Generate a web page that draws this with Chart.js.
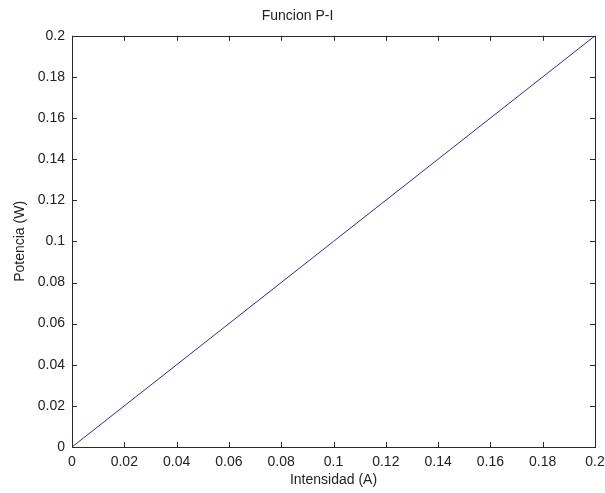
<!DOCTYPE html>
<html>
<head>
<meta charset="utf-8">
<script src="https://cdn.jsdelivr.net/npm/chart.js@4/dist/chart.umd.min.js"></script>
<style>
  html, body { margin: 0; padding: 0; background: #fff; }
  #wrap { width: 605px; height: 493px; }
</style>
</head>
<body>
<div id="wrap"><canvas id="grafico"></canvas></div>
<script>
const intensidad = [0, 0.2];
const potencia = [0, 0.2];
const ticksX = [0, 0.02, 0.04, 0.06, 0.08, 0.1, 0.12, 0.14, 0.16, 0.18, 0.2];
const ticksY = [0, 0.02, 0.04, 0.06, 0.08, 0.1, 0.12, 0.14, 0.16, 0.18, 0.2];

const fuente = "'Liberation Sans', Arial, sans-serif";

// marco y marcas hacia dentro, estilo MATLAB
const marcoPlugin = {
    id: 'marco',
    afterDraw(chart) {
        const { ctx, chartArea: a, scales } = chart;
        const largo = 5;
        ctx.save();
        ctx.strokeStyle = '#2a2a2a';
        ctx.lineWidth = 1;
        ctx.beginPath();
        ticksX.forEach(v => {
            const x = Math.round(scales.x.getPixelForValue(v)) + 0.5;
            ctx.moveTo(x, a.bottom); ctx.lineTo(x, a.bottom - largo);
            ctx.moveTo(x, a.top); ctx.lineTo(x, a.top + largo);
        });
        ticksY.forEach(v => {
            const y = Math.round(scales.y.getPixelForValue(v)) + 0.5;
            ctx.moveTo(a.left, y); ctx.lineTo(a.left + largo, y);
            ctx.moveTo(a.right, y); ctx.lineTo(a.right - largo, y);
        });
        ctx.stroke();
        ctx.strokeRect(Math.round(a.left) + 0.5, Math.round(a.top) + 0.5,
            Math.round(a.right - a.left), Math.round(a.bottom - a.top));
        ctx.restore();
    }
};

new Chart(document.getElementById('grafico'), {
    type: 'scatter',
    data: {
        datasets: [{
            data: intensidad.map((x, i) => ({ x: x, y: potencia[i] })),
            showLine: true,
            borderColor: '#2a2ab8',
            borderWidth: 1,
            pointRadius: 0,
            fill: false
        }]
    },
    plugins: [marcoPlugin],
    options: {
        responsive: true,
        maintainAspectRatio: false,
        animation: false,
        layout: { padding: { left: 0, right: 10, top: 0, bottom: 0 } },
        plugins: {
            legend: { display: false },
            tooltip: { enabled: false },
            title: {
                display: true,
                text: 'Funcion P-I',
                color: '#222',
                font: { family: fuente, size: 14, weight: 'normal' },
                padding: { top: 8, bottom: 11 }
            }
        },
        scales: {
            x: {
                type: 'linear',
                min: 0,
                max: 0.2,
                afterBuildTicks: (s) => { s.ticks = ticksX.map(v => ({ value: v })); },
                afterFit: (s) => { s.height = 46; s.paddingLeft = 0; s.paddingRight = 0; },
                grid: { display: true, drawOnChartArea: false, drawTicks: false },
                border: { display: false },
                ticks: {
                    color: '#222',
                    padding: 7,
                    maxRotation: 0,
                    font: { family: fuente, size: 14 },
                    callback: (v) => String(+v.toFixed(2))
                },
                title: {
                    display: true,
                    text: 'Intensidad (A)',
                    color: '#222',
                    font: { family: fuente, size: 14 },
                    padding: { top: 0, bottom: 4 }
                }
            },
            y: {
                type: 'linear',
                min: 0,
                max: 0.2,
                afterBuildTicks: (s) => { s.ticks = ticksY.map(v => ({ value: v })); },
                afterFit: (s) => { s.width = 72; s.paddingTop = 0; s.paddingBottom = 0; },
                grid: { display: true, drawOnChartArea: false, drawTicks: false },
                border: { display: false },
                ticks: {
                    color: '#222',
                    padding: 7,
                    font: { family: fuente, size: 14 },
                    callback: (v) => String(+v.toFixed(2))
                },
                title: {
                    display: true,
                    text: 'Potencia (W)',
                    color: '#222',
                    font: { family: fuente, size: 14 },
                    padding: { top: 12, bottom: 0 }
                }
            }
        }
    }
});
</script>
</body>
</html>
